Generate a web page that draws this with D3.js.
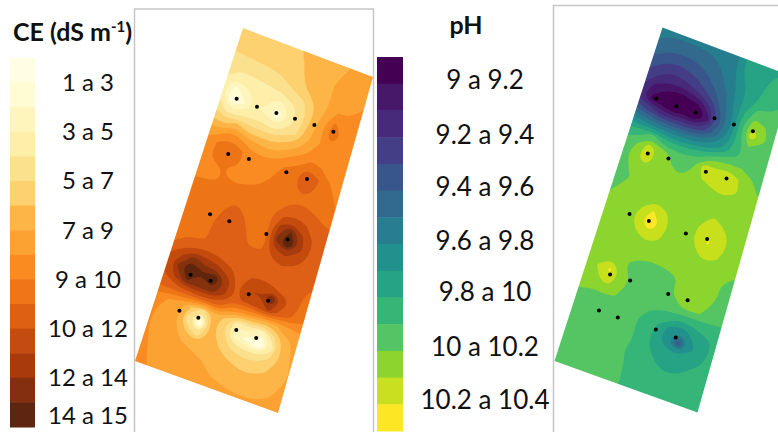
<!DOCTYPE html>
<html>
<head>
<meta charset="utf-8">
<script src="https://cdnjs.cloudflare.com/ajax/libs/d3/7.8.5/d3.min.js"></script>
<style>
  html, body { margin: 0; background: #fff; }
  svg { display: block; }
  text { font-family: Lato, "Open Sans", sans-serif; fill: #111; }
</style>
</head>
<body>
<div id="chart"></div>
<script>
// legend classes
const ceColors = ['#fffde2', '#fffbd2', '#fef5bd', '#fdeeaa', '#fbe08e', '#fdd070', '#fdb546', '#fca232', '#f98b20', '#ee7518', '#de6013', '#c54c10', '#a83a0c', '#84300e', '#5e2610']
const phColors = ['#440154', '#47186a', '#472a7a', '#433e85', '#39568c', '#316a8e', '#287d8e', '#22908c', '#26a384', '#36b577', '#55c464', '#8cd42e', '#c8e01f', '#fde725']
const ceLabels = ['1 a 3', '3 a 5', '5 a 7', '7 a 9', '9 a 10', '10 a 12', '12 a 14', '14 a 15']
const ceLabelAt = [1, 3, 5, 7, 9, 11, 13, 14.55]
const phLabels = ['9 a 9.2', '9.2 a 9.4', '9.4 a 9.6', '9.6 a 9.8', '9.8 a 10', '10 a 10.2', '10.2 a 10.4']
const phLabelAt = [0.85, 2.9, 4.85, 6.9, 8.8, 10.85, 12.85]

// sample points, as fractions of the plot width and length
const stationU = [0.112, 0.266, 0.41, 0.548, 0.692, 0.835, 0.173, 0.321, 0.598, 0.75, 0.179, 0.32, 0.588, 0.739, 0.177, 0.318, 0.591, 0.729, 0.179, 0.313, 0.58, 0.723]
const stationV = [0.196, 0.197, 0.194, 0.191, 0.188, 0.187, 0.352, 0.345, 0.343, 0.341, 0.532, 0.532, 0.529, 0.523, 0.7135, 0.71, 0.709, 0.707, 0.8215, 0.8215, 0.817, 0.819]

// fields on a 15 x 33 grid, in legend class units
const ceField = [
  5.4,5.4,5.5,5.6,5.7,5.8,5.9,6.1,6.3,6.5,6.7,7.0,7.2,7.4,7.4,
  5.4,5.4,5.5,5.6,5.7,5.8,5.9,6.1,6.3,6.5,6.7,7.0,7.2,7.4,7.4,
  5.2,5.2,5.3,5.4,5.5,5.6,5.8,6.0,6.3,6.6,6.9,7.2,7.4,7.6,7.6,
  5.0,5.0,5.1,5.15,5.2,5.3,5.6,5.9,6.3,6.7,7.0,7.3,7.5,7.7,7.7,
  4.6,4.6,4.5,4.6,4.6,4.7,5.0,5.6,6.1,6.7,7.0,7.4,7.8,8.0,8.0,
  4.2,4.2,3.6,3.6,3.8,3.9,4.1,4.6,5.1,6.2,7.0,8.0,8.0,8.3,8.3,
  3.8,3.4,1.6,2.8,3.3,3.2,2.4,3.6,4.6,6.0,7.6,9.2,8.3,8.4,8.4,
  4.2,3.7,0.4,1.8,3.1,2.8,0.8,3.0,4.4,6.4,7.8,9.8,8.7,8.5,8.5,
  5.0,4.7,3.4,3.6,4.0,4.0,3.5,4.3,5.0,6.7,7.8,8.6,8.5,8.5,8.5,
  6.0,5.9,5.4,6.5,5.5,5.5,5.5,5.9,6.6,7.4,8.5,8.4,8.5,8.6,8.6,
  7.4,7.4,7.8,8.4,7.8,7.2,7.0,7.2,8.0,8.6,9.3,9.0,8.8,8.8,8.8,
  8.2,8.2,9.2,9.9,9.2,8.4,8.3,8.6,9.1,9.6,11.0,10.0,9.0,8.8,8.8,
  8.2,8.3,9.2,10.0,9.1,8.5,8.6,8.9,9.5,9.8,10.9,9.9,9.3,8.8,8.8,
  8.4,8.4,8.8,9.0,8.7,8.7,8.9,9.2,9.5,9.7,9.8,9.6,9.3,9.0,9.0,
  8.8,8.8,8.9,9.0,9.1,9.2,9.3,9.4,9.6,10.0,10.3,10.2,9.9,9.7,9.7,
  9.3,9.3,9.4,9.6,9.75,9.9,9.7,9.5,9.9,11.0,11.4,11.0,10.3,10.1,10.1,
  9.5,9.5,9.6,9.7,9.9,10.3,9.9,9.5,9.8,12.5,14.0,12.0,10.9,10.4,10.4,
  9.5,9.5,9.6,9.7,10.1,10.7,10.2,9.6,9.7,13.2,15.8,12.6,10.9,10.4,10.4,
  9.6,9.6,9.7,9.8,10.2,10.5,10.4,9.8,9.8,11.7,12.2,11.5,10.8,10.4,10.4,
  9.7,9.7,9.8,9.7,10.3,10.5,10.5,10.3,10.4,10.7,11.0,10.8,10.5,10.2,10.2,
  9.9,9.9,10.4,10.9,11.0,10.8,10.5,10.4,10.5,10.5,10.5,10.4,10.3,10.0,10.0,
  10.2,10.9,11.9,13.4,12.6,12.3,11.4,10.6,11.1,11.3,11.0,10.7,10.2,9.7,9.7,
  10.6,11.4,13.3,16.0,14.0,15.2,12.9,10.8,12.0,12.0,14.3,11.4,10.3,9.4,9.4,
  10.1,10.9,12.1,14.0,13.4,13.9,12.4,10.9,11.1,11.4,12.2,10.6,9.9,9.0,9.0,
  9.6,10.2,10.2,10.3,10.5,10.5,10.3,8.6,8.0,7.5,6.9,7.0,7.6,8.0,8.0,
  8.8,8.6,8.0,7.4,6.0,4.2,6.8,5.4,3.2,3.8,2.4,4.8,6.7,7.3,7.5,
  8.6,8.2,7.5,7.2,4.2,0.2,6.4,5.0,2.4,1.6,-1.0,3.2,6.3,7.3,7.5,
  8.5,8.1,7.5,7.3,6.0,4.4,6.5,5.8,4.6,4.2,4.2,5.0,6.2,7.1,7.3,
  8.5,8.1,7.6,7.4,7.0,6.8,6.5,6.2,5.9,5.6,5.6,5.9,6.4,7.0,7.2,
  8.4,8.2,7.8,7.6,7.4,7.2,7.0,6.7,6.4,6.2,6.2,6.3,6.7,7.2,7.3,
  8.3,8.2,7.9,7.7,7.6,7.4,7.2,7.0,6.8,6.6,6.5,6.7,7.0,7.4,7.5,
  8.2,8.1,8.0,7.8,7.7,7.6,7.5,7.4,7.3,7.2,7.2,7.2,7.3,7.5,7.6,
  8.2,8.1,8.0,7.8,7.7,7.6,7.5,7.4,7.3,7.2,7.2,7.2,7.3,7.5,7.6,
]
const phField = [
  6.5,6.5,6.3,6.3,6.3,6.3,6.4,6.6,6.8,8.3,8.5,8.7,8.9,9.1,9.2,
  6.5,6.5,6.3,6.3,6.3,6.3,6.4,6.6,6.8,8.3,8.5,8.7,8.9,9.1,9.2,
  6.0,6.0,5.7,5.6,5.6,5.7,5.9,6.2,6.8,8.2,8.6,8.9,9.2,9.4,9.5,
  5.4,5.4,4.9,4.6,4.6,4.9,5.3,5.9,6.5,7.8,8.5,9.0,9.4,9.6,9.7,
  4.8,4.6,3.9,3.4,3.6,4.0,4.6,5.4,6.2,7.4,8.5,9.2,9.7,10.1,10.1,
  4.2,3.6,2.9,2.4,2.4,2.8,3.6,4.6,5.8,7.4,8.8,10.3,10.2,10.3,10.3,
  3.6,2.9,1.4,1.0,0.4,0.8,1.2,3.0,5.2,7.0,9.6,11.6,11.0,10.4,10.4,
  3.2,2.5,0.7,0.3,-1.2,0.2,-1.2,1.5,4.6,6.9,9.7,12.9,11.4,10.4,10.4,
  5.0,4.6,3.8,3.0,2.8,3.0,3.0,3.8,5.6,7.3,9.4,11.0,10.6,10.3,10.3,
  7.4,7.2,6.8,6.4,6.2,6.3,6.4,6.8,7.4,8.4,9.6,10.3,10.4,10.4,10.4,
  9.4,9.5,9.5,10.4,9.2,9.0,9.1,9.4,10.0,10.9,11.0,11.0,10.8,10.4,10.4,
  10.0,10.3,11.0,12.5,11.6,10.9,10.6,10.9,12.8,12.3,12.9,12.0,11.2,10.7,10.7,
  10.1,10.6,11.5,12.8,11.5,11.1,10.9,11.1,12.0,12.3,12.7,12.2,11.3,11.0,11.0,
  10.2,10.5,11.1,11.4,11.3,11.3,11.3,11.4,11.5,11.6,11.8,11.6,11.3,11.1,11.1,
  10.3,10.5,10.9,11.3,11.3,11.4,11.4,11.4,11.5,11.5,11.5,11.4,11.3,11.1,11.1,
  10.5,10.8,11.2,11.3,11.5,11.8,11.5,11.4,11.5,11.7,12.2,11.7,11.3,11.2,11.2,
  10.8,11.1,11.2,11.4,12.0,13.0,12.2,11.4,11.3,12.1,12.8,12.4,11.5,11.2,11.2,
  11.0,11.2,11.3,11.6,12.5,14.8,12.5,11.5,11.4,12.2,13.1,12.6,11.6,11.2,11.2,
  11.0,11.2,11.3,11.5,12.0,12.7,12.1,11.5,11.4,11.8,12.5,12.1,11.5,11.2,11.2,
  11.0,11.2,11.4,11.5,11.6,11.8,11.7,11.4,11.4,11.5,11.6,11.6,11.4,11.0,11.0,
  11.0,11.2,11.5,11.6,11.5,11.2,11.1,11.2,11.3,11.5,11.5,11.4,11.0,10.7,10.7,
  11.1,11.3,11.6,11.9,11.0,10.7,10.5,10.5,10.7,11.3,11.5,11.4,11.0,10.6,10.6,
  11.0,11.3,12.1,13.2,11.6,10.7,10.5,10.4,10.9,11.2,11.5,11.5,10.8,10.5,10.5,
  11.0,11.2,11.7,12.5,11.5,10.7,10.5,10.4,10.6,10.9,11.1,11.0,10.5,10.2,10.2,
  10.9,11.2,11.0,11.1,11.0,10.6,10.4,10.1,9.8,9.5,9.1,9.3,9.5,9.7,9.8,
  10.4,10.7,10.5,10.5,10.5,10.5,10.2,9.6,9.0,7.7,7.0,8.3,8.8,9.2,9.4,
  10.4,10.5,10.5,10.5,10.5,10.5,10.2,9.5,8.7,7.2,4.4,7.5,8.7,9.2,9.4,
  10.4,10.5,10.5,10.5,10.5,10.5,10.2,9.7,8.9,8.4,8.2,8.6,8.9,9.3,9.4,
  10.4,10.5,10.5,10.5,10.5,10.4,10.0,9.7,9.2,8.8,8.7,8.95,9.2,9.4,9.5,
  10.4,10.5,10.5,10.5,10.5,10.4,10.1,9.7,9.4,9.2,9.1,9.2,9.3,9.4,9.5,
  10.4,10.5,10.5,10.5,10.5,10.4,10.1,9.8,9.5,9.4,9.3,9.4,9.4,9.5,9.5,
  10.4,10.5,10.5,10.5,10.5,10.4,10.1,9.8,9.6,9.5,9.5,9.5,9.5,9.5,9.5,
  10.4,10.5,10.5,10.5,10.5,10.4,10.1,9.8,9.6,9.5,9.5,9.5,9.5,9.5,9.5,
]

const gridCols = 15, gridRows = 33
const width = 778, height = 432

const svg = d3.select('#chart').append('svg')
  .attr('width', width)
  .attr('height', height)

svg.append('filter').attr('id', 'soft')
  .append('feGaussianBlur').attr('stdDeviation', 0.5)

// grid node -> fraction of the plot, node 1 is the plot edge
const uScale = d3.scaleLinear().domain([1.5, 13.5]).range([0, 1])
const vScale = d3.scaleLinear().domain([1.5, 31.5]).range([0, 1])

function drawMap({ field, colors, corners, id }) {
  const [tl, tr, bl, br] = corners
  // the plot is slightly off a parallelogram, so map it bilinearly
  const project = (u, v) => [
    tl[0] + u * (tr[0] - tl[0]) + v * (bl[0] - tl[0]) + u * v * (br[0] - tr[0] - bl[0] + tl[0]),
    tl[1] + u * (tr[1] - tl[1]) + v * (bl[1] - tl[1]) + u * v * (br[1] - tr[1] - bl[1] + tl[1]),
  ]

  svg.append('clipPath').attr('id', id)
    .append('polygon')
    .attr('points', [tl, tr, br, bl].join(' '))

  const g = svg.append('g')
    .attr('clip-path', `url(#${id})`)
    .append('g')
    .attr('filter', 'url(#soft)')

  g.append('rect')
    .attr('x', d3.min(corners, d => d[0]) - 5)
    .attr('y', d3.min(corners, d => d[1]) - 5)
    .attr('width', d3.max(corners, d => d[0]) - d3.min(corners, d => d[0]) + 10)
    .attr('height', d3.max(corners, d => d[1]) - d3.min(corners, d => d[1]) + 10)
    .style('fill', colors[0])

  const contours = d3.contours()
    .size([gridCols, gridRows])
    .thresholds(d3.range(1, colors.length))(field)

  const ringPath = d3.line().curve(d3.curveBasisClosed)

  g.selectAll('path')
    .data(contours)
    .join('path')
    .attr('d', d => d.coordinates.flatMap(poly => poly.map(ring =>
      ringPath(ring.slice(0, -1).map(([x, y]) => project(uScale(x), vScale(y))))
    )).join(''))
    .style('fill', d => colors[d.value])
    .style('fill-rule', 'evenodd')

  svg.append('g').selectAll('circle')
    .data(stationU)
    .join('circle')
    .attr('cx', (d, i) => project(d, stationV[i])[0])
    .attr('cy', (d, i) => project(d, stationV[i])[1])
    .attr('r', 2)
    .style('fill', '#000')
}

function drawLegend({ colors, labels, labelAt, x, top, bottom, labelX, size, fontSize }) {
  const y = d3.scaleLinear().domain([0, colors.length]).range([top, bottom])
  const g = svg.append('g')
  g.selectAll('rect')
    .data(colors)
    .join('rect')
    .attr('x', x)
    .attr('y', (d, i) => y(i))
    .attr('width', size)
    .attr('height', y(1) - y(0) + 0.5)
    .style('fill', d => d)
  g.selectAll('text')
    .data(labels)
    .join('text')
    .attr('x', labelX)
    .attr('y', (d, i) => y(labelAt[i]))
    .attr('dy', '0.35em')
    .attr('text-anchor', 'middle')
    .style('font-size', fontSize + 'px')
    .text(d => d)
}

function frame(points) {
  svg.append('path')
    .attr('d', d3.line()(points))
    .style('fill', 'none')
    .style('stroke', '#c6c6c6')
    .style('stroke-width', 1.5)
}

frame([[134.5, 432], [134.5, 9], [373.5, 9], [373.5, 432]])
frame([[553.5, 432], [553.5, 5.5], [778, 5.5]])

drawMap({ field: ceField, colors: ceColors, id: 'ce-clip', corners: [[243, 28], [373, 77], [135, 361], [278, 413]] })
drawMap({ field: phField, colors: phColors, id: 'ph-clip', corners: [[662.5, 27.5], [792.5, 76.5], [554.5, 361], [697.5, 412.5]] })

drawLegend({ colors: ceColors, labels: ceLabels, labelAt: ceLabelAt, x: 10, top: 58, bottom: 427, labelX: 88, size: 25, fontSize: 24 })
drawLegend({ colors: phColors, labels: phLabels, labelAt: phLabelAt, x: 377, top: 57, bottom: 431, labelX: 485, size: 26, fontSize: 26 })

const ceTitle = svg.append('text')
  .attr('x', 13)
  .attr('y', 41)
  .style('font-size', '25px')
  .style('font-weight', 700)
ceTitle.append('tspan').text('CE (dS m')
ceTitle.append('tspan').attr('dy', -9).style('font-size', '15px').text('-1')
ceTitle.append('tspan').attr('dy', 9).text(')')

svg.append('text')
  .attr('x', 466)
  .attr('y', 34)
  .attr('text-anchor', 'middle')
  .style('font-size', '25px')
  .style('font-weight', 700)
  .text('pH')
</script>
</body>
</html>
